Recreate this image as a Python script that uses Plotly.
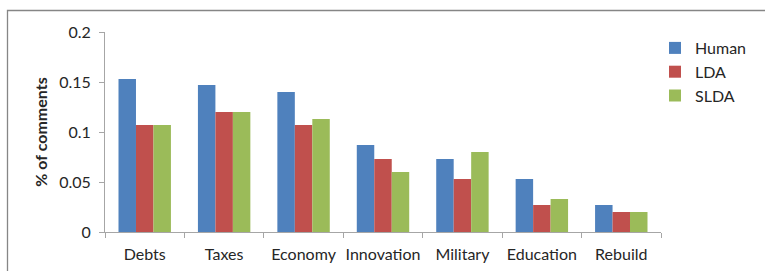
import plotly.graph_objects as go

categories = ["Debts", "Taxes", "Economy", "Innovation", "Military", "Education", "Rebuild"]
human = [0.153, 0.147, 0.140, 0.087, 0.073, 0.053, 0.027]
lda = [0.107, 0.120, 0.107, 0.073, 0.053, 0.027, 0.020]
slda = [0.107, 0.120, 0.113, 0.060, 0.080, 0.033, 0.020]
y_ticks = [0, 0.05, 0.1, 0.15, 0.2]
y_tick_labels = ["0", "0.05", "0.1", "0.15", "0.2"]

W, H = 765, 271
L, R, T, B = 105, 104, 32, 39
pw, ph = W - L - R, H - T - B

def px_x(p):
    return (p - L) / pw

def px_y(p):
    return (H - B - p) / ph

font = "Lato"
fc = "#262626"

fig = go.Figure()
for name, vals, col in [("Human", human, "#4F81BD"), ("LDA", lda, "#C0504D"), ("SLDA", slda, "#9BBB59")]:
    fig.add_trace(go.Bar(x=categories, y=vals, name=name, marker=dict(color=col, line=dict(width=0))))

fig.update_layout(
    width=W, height=H,
    margin=dict(l=L, r=R, t=T, b=B),
    paper_bgcolor="white", plot_bgcolor="white",
    barmode="group", bargap=0.34, bargroupgap=0,
    font=dict(family=font, size=15, color=fc),
    showlegend=True,
    legend=dict(x=px_x(655), y=px_y(31), xanchor="left", yanchor="top",
                font=dict(family=font, size=16, color=fc),
                itemwidth=30, tracegroupgap=0, bgcolor="rgba(0,0,0,0)"),
    xaxis=dict(showline=True, linecolor="#A6A6A6", linewidth=1, automargin=False, tickangle=0,
               ticks="outside", ticklen=5, tickcolor="#A6A6A6", tickson="boundaries",
               ticklabelstandoff=8,
               tickfont=dict(family=font, size=16, color=fc), showgrid=False, fixedrange=True),
    yaxis=dict(range=[0, 0.2], tickvals=y_ticks, ticktext=y_tick_labels, automargin=False,
               showline=True, linecolor="#A6A6A6", linewidth=1,
               ticks="outside", ticklen=5, tickcolor="#A6A6A6", ticklabelstandoff=5,
               tickfont=dict(family=font, size=16, color=fc), showgrid=False, zeroline=False,
               fixedrange=True,
               title=dict(text="<b>% of comments</b>", font=dict(family=font, size=16, color=fc), standoff=7)),
    shapes=[dict(type="rect", xref="paper", yref="paper",
                 x0=px_x(7.5), x1=px_x(775), y0=px_y(280), y1=px_y(10.5),
                 line=dict(color="#868686", width=1.3), fillcolor="rgba(0,0,0,0)", layer="below")],
)

fig.write_html("out.html", config={"displayModeBar": False},
               post_script="document.body.style.margin='0';document.body.style.overflow='hidden';")
